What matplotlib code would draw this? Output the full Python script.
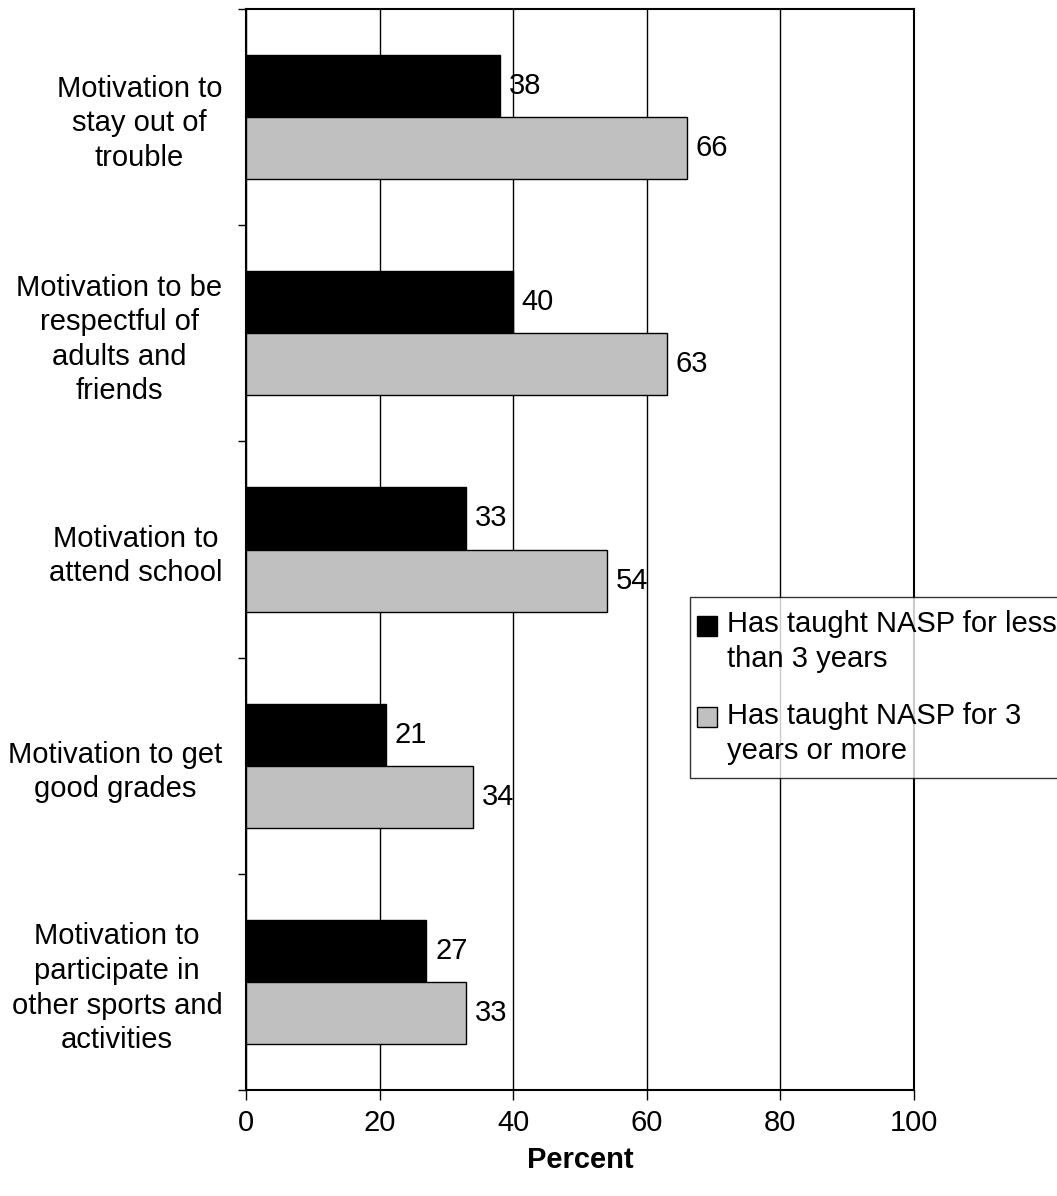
import matplotlib

matplotlib.use("Agg")
import matplotlib.pyplot as plt
import numpy as np
from matplotlib.container import BarContainer
from matplotlib.legend_handler import HandlerPatch, update_from_first_child
from matplotlib.patches import Rectangle

plt.rcParams["font.family"] = ["Liberation Sans", "DejaVu Sans"]

categories = [
    "Motivation to\nstay out of\ntrouble",
    "Motivation to be\nrespectful of\nadults and\nfriends",
    "Motivation to\nattend school",
    "Motivation to get\ngood grades",
    "Motivation to\nparticipate in\nother sports and\nactivities",
]
less_than_3 = [38, 40, 33, 21, 27]
three_or_more = [66, 63, 54, 34, 33]
series_names = [
    "Has taught NASP for less\nthan 3 years",
    "Has taught NASP for 3\nyears or more",
]
x_ticks = [0, 20, 40, 60, 80, 100]

FS = 21
LS = 1.3


def _top_square(legend, orig_handle, xdescent, ydescent, width, height, fontsize):
    # swatch sits beside the first line of the two-line label
    return Rectangle((-xdescent - 4.5, -ydescent + 12.0), width, height)


fig = plt.figure(figsize=(10.57, 11.96), dpi=100)
ax = fig.add_axes([0.2327, 0.0886, 0.632, 0.9039])

n = len(categories)
pos = np.arange(n)[::-1].astype(float)
h = 0.287

b1 = ax.barh(pos + h / 2, less_than_3, height=h, color="black",
             edgecolor="black", linewidth=1, label=series_names[0], zorder=3)
b2 = ax.barh(pos - h / 2, three_or_more, height=h, color="#c0c0c0",
             edgecolor="black", linewidth=1, label=series_names[1], zorder=3)

for bars, vals in ((b1, less_than_3), (b2, three_or_more)):
    for rect, v in zip(bars, vals):
        ax.text(v + 1.3, rect.get_y() + rect.get_height() / 2, f"{v}",
                va="center", ha="left", fontsize=FS, zorder=4)

ax.set_xlim(0, 100)
ax.set_ylim(-0.5, n - 0.5)
ax.set_xticks(x_ticks)
ax.set_xticklabels([str(t) for t in x_ticks], fontsize=FS)
ax.tick_params(axis="x", direction="out", length=7, width=1, pad=7)
ax.xaxis.grid(True, color="black", linewidth=1, zorder=1)

ax.set_yticks(np.arange(n + 1) - 0.5)
ax.set_yticklabels([])
ax.tick_params(axis="y", which="major", direction="out", length=6, width=1)
ax.set_yticks(pos, minor=True)
ax.set_yticklabels(categories, minor=True, fontsize=FS, multialignment="center",
                   linespacing=LS)
ax.tick_params(axis="y", which="minor", length=0, pad=17)

for s in ax.spines.values():
    s.set_linewidth(1.5)
    s.set_color("black")

ax.set_xlabel("Percent", fontsize=FS, fontweight="bold", labelpad=6)

handler = HandlerPatch(patch_func=_top_square, update_func=update_from_first_child)
leg = fig.legend(loc="upper left", bbox_to_anchor=(0.6528, 0.5008), fontsize=FS,
                 frameon=True, fancybox=False, edgecolor="black",
                 handlelength=0.68, handleheight=0.68, handletextpad=0.14,
                 labelspacing=1.0, borderpad=0.45, borderaxespad=0,
                 handler_map={BarContainer: handler})
leg.get_frame().set_linewidth(1)
for t in leg.get_texts():
    t.set_linespacing(LS)

fig.savefig("out.png", dpi=100)
